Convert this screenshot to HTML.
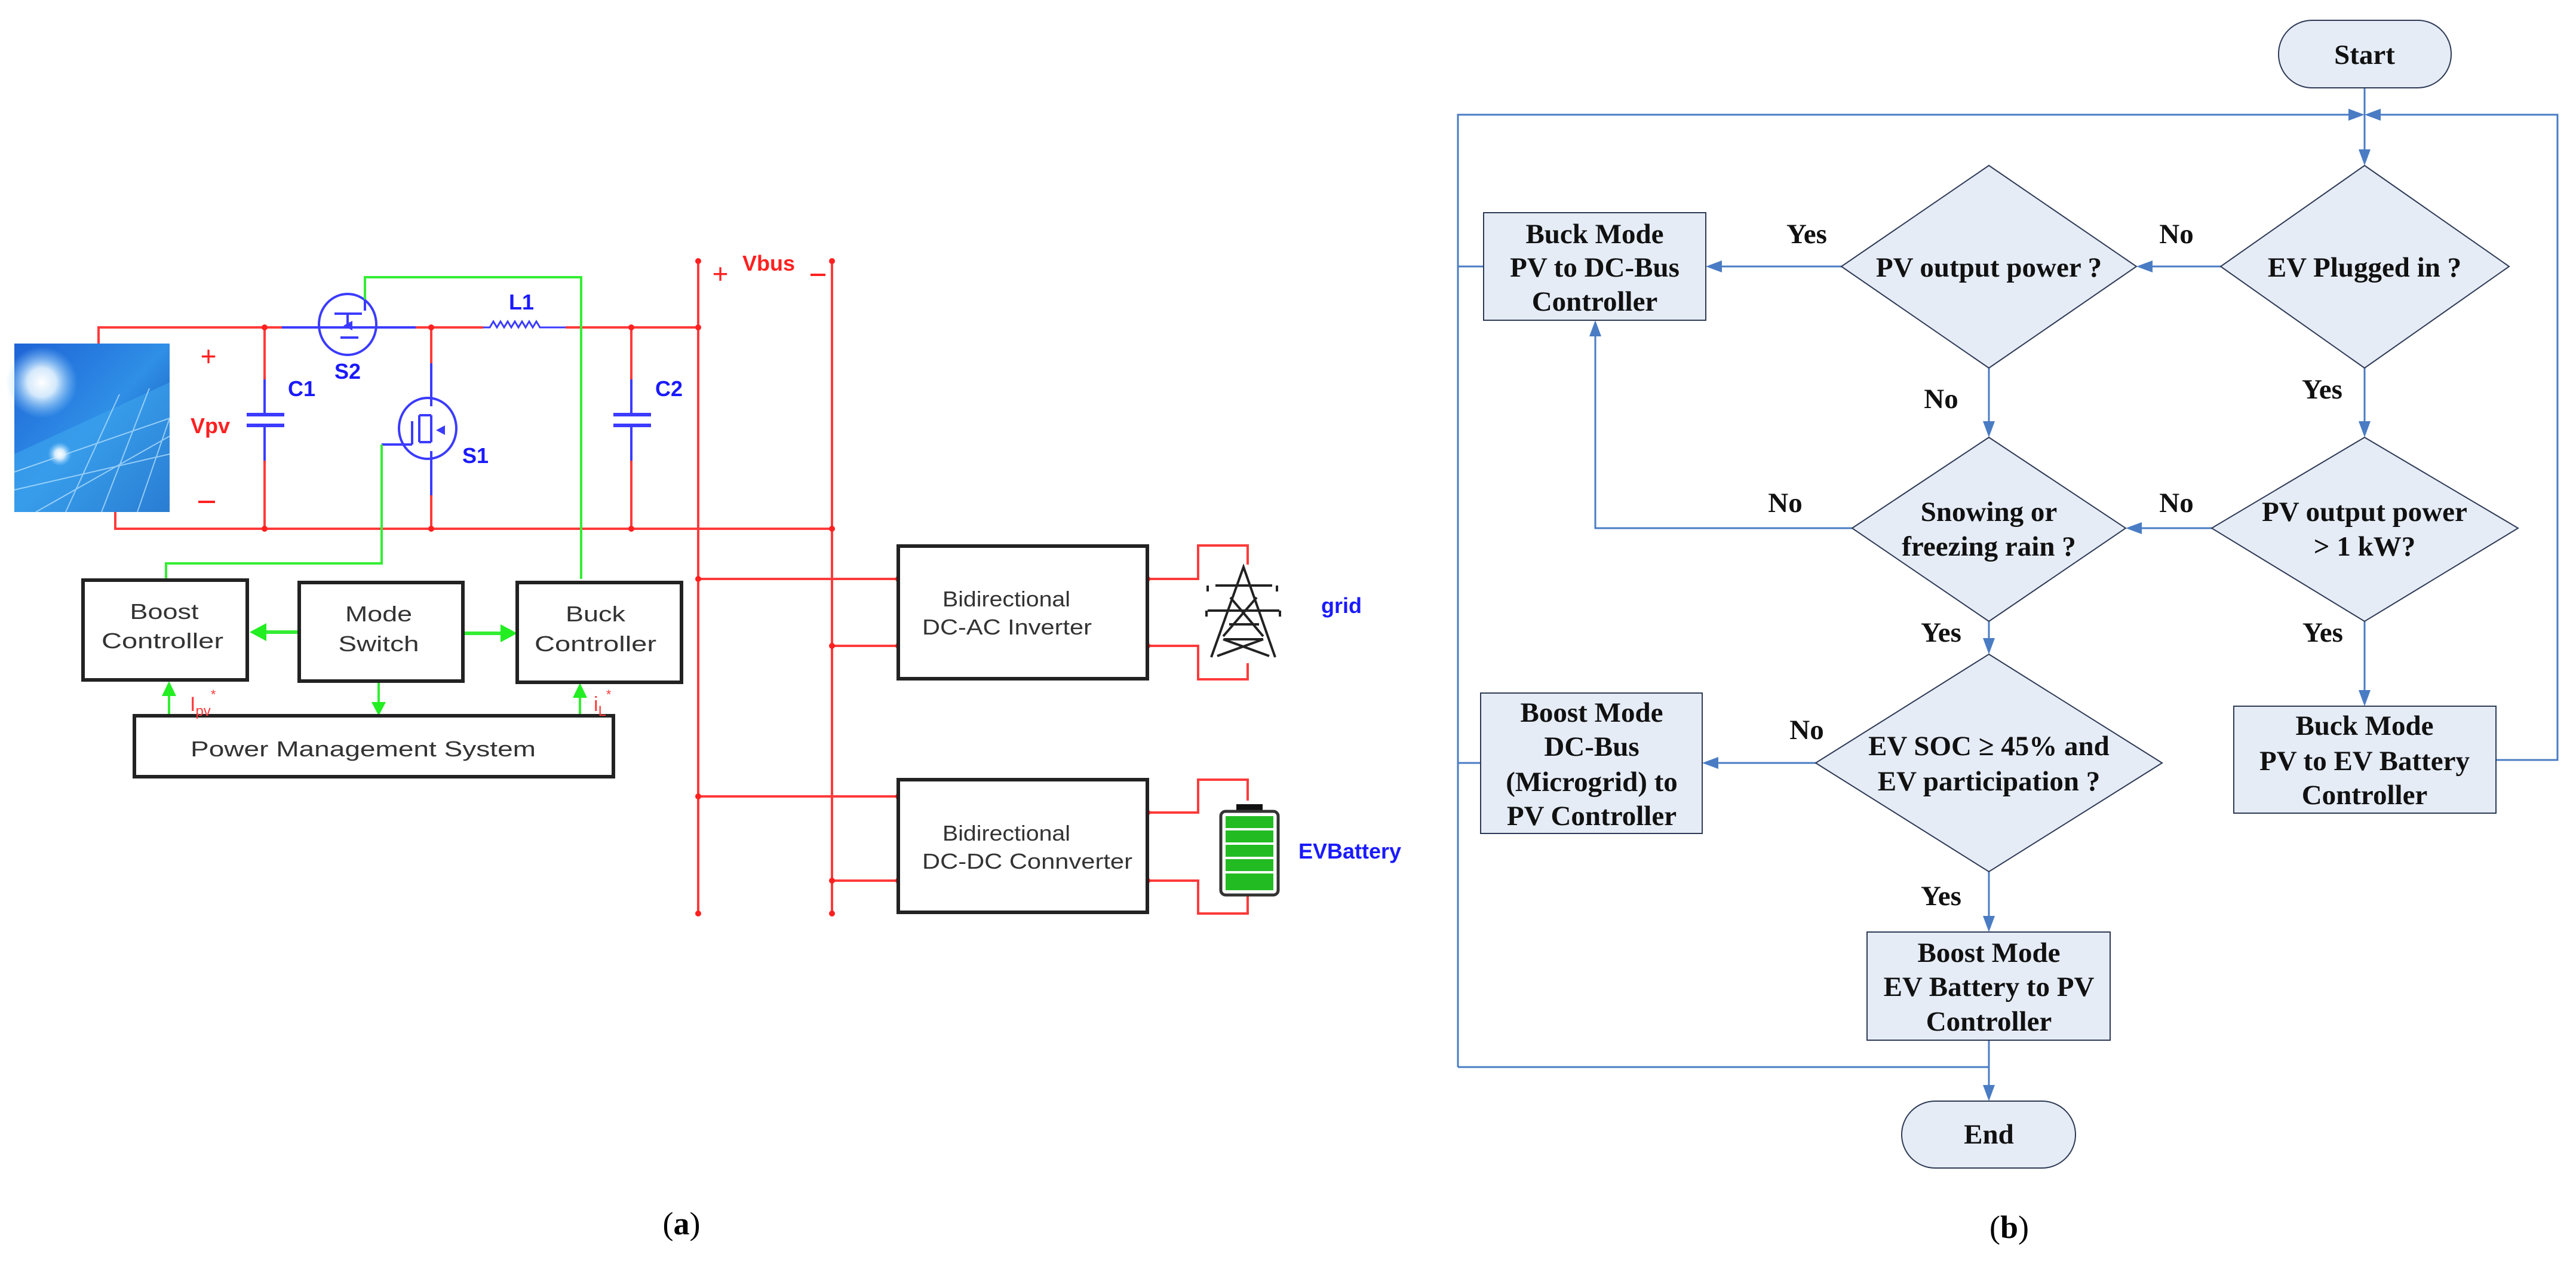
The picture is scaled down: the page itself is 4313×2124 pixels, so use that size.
<!DOCTYPE html>
<html><head><meta charset="utf-8"><style>
html,body{margin:0;padding:0;background:#fff}
svg{display:block}
.fc{font-family:"Liberation Serif",serif;font-weight:bold;font-size:47px;fill:#111;text-anchor:middle}
.cl{font-family:"Liberation Sans",sans-serif;font-weight:bold;font-size:36px;fill:#1a1aff;text-anchor:middle}
.bx{font-family:"Liberation Sans",sans-serif;font-size:36px;fill:#333;text-anchor:middle}
</style></head><body>
<svg width="4313" height="2124" viewBox="0 0 4313 2124" xmlns="http://www.w3.org/2000/svg">
<defs>
<marker id="ab" markerWidth="10" markerHeight="8" refX="10" refY="4" orient="auto" markerUnits="userSpaceOnUse" viewBox="0 0 10 8">
</marker>
<linearGradient id="sol" x1="0" y1="0" x2="1" y2="1">
<stop offset="0" stop-color="#1e63d6"/><stop offset="0.5" stop-color="#2f8fe6"/><stop offset="1" stop-color="#0d3fa8"/></linearGradient>
<radialGradient id="sun" cx="0.5" cy="0.5" r="0.5"><stop offset="0" stop-color="#fff"/><stop offset="0.4" stop-color="#e8f6ff" stop-opacity="0.9"/><stop offset="1" stop-color="#8fd0ff" stop-opacity="0"/></radialGradient>
</defs>

<!-- ================= (a) circuit ================= -->
<!-- solar panel -->
<rect x="24" y="575" width="260" height="282" fill="url(#sol)"/>
<polygon points="24,760 284,640 284,857 24,857" fill="#3ea6ee" opacity="0.6"/>
<g stroke="#bfe6ff" stroke-width="2" opacity="0.7">
<line x1="24" y1="790" x2="284" y2="700"/><line x1="24" y1="820" x2="284" y2="760"/><line x1="60" y1="857" x2="284" y2="730"/>
<line x1="110" y1="857" x2="200" y2="660"/><line x1="170" y1="857" x2="250" y2="650"/><line x1="230" y1="857" x2="284" y2="700"/>
</g>
<circle cx="70" cy="640" r="60" fill="url(#sun)"/>
<circle cx="100" cy="760" r="20" fill="url(#sun)"/>

<!-- red wires -->
<g stroke="#ff3a3a" stroke-width="4" fill="none">
<polyline points="165,575 165,548 472,548"/>
<line x1="696" y1="548" x2="809" y2="548"/>
<line x1="947" y1="548" x2="1169" y2="548"/>
<polyline points="193,857 193,885 1393,885"/>
<line x1="443" y1="548" x2="443" y2="635"/><line x1="443" y1="771" x2="443" y2="885"/>
<line x1="1057" y1="548" x2="1057" y2="635"/><line x1="1057" y1="771" x2="1057" y2="885"/>
<line x1="722" y1="548" x2="722" y2="608"/><line x1="722" y1="829" x2="722" y2="885"/>
<line x1="1169" y1="437" x2="1169" y2="1529"/>
<line x1="1393" y1="437" x2="1393" y2="1529"/>
<line x1="1169" y1="969" x2="1504" y2="969"/>
<line x1="1393" y1="1081" x2="1504" y2="1081"/>
<line x1="1169" y1="1333" x2="1504" y2="1333"/>
<line x1="1393" y1="1474" x2="1504" y2="1474"/>
<polyline points="1921,969 2006,969 2006,913 2089,913 2089,945"/>
<polyline points="1921,1081 2006,1081 2006,1137 2089,1137 2089,1110"/>
<polyline points="1921,1360 2006,1360 2006,1305 2089,1305 2089,1340"/>
<polyline points="1921,1474 2006,1474 2006,1529 2089,1529 2089,1498"/>
</g>
<g fill="#ff2020">
<circle cx="443" cy="548" r="5"/><circle cx="722" cy="548" r="5"/><circle cx="1057" cy="548" r="5"/><circle cx="1169" cy="548" r="5"/>
<circle cx="443" cy="885" r="5"/><circle cx="722" cy="885" r="5"/><circle cx="1057" cy="885" r="5"/><circle cx="1393" cy="885" r="5"/>
<circle cx="1169" cy="437" r="5"/><circle cx="1393" cy="437" r="5"/><circle cx="1169" cy="1529" r="5"/><circle cx="1393" cy="1529" r="5"/>
<circle cx="1169" cy="969" r="5"/><circle cx="1393" cy="1081" r="5"/><circle cx="1169" cy="1333" r="5"/><circle cx="1393" cy="1474" r="5"/>
<circle cx="1504" cy="969" r="5"/><circle cx="1504" cy="1081" r="5"/><circle cx="1504" cy="1333" r="5"/><circle cx="1504" cy="1474" r="5"/>
<circle cx="1921" cy="969" r="5"/><circle cx="1921" cy="1081" r="5"/><circle cx="1921" cy="1360" r="5"/><circle cx="1921" cy="1474" r="5"/>
</g>

<!-- blue components -->
<g stroke="#3b3bff" stroke-width="4" fill="none">
<line x1="472" y1="548" x2="696" y2="548"/>
<ellipse cx="582" cy="543" rx="48" ry="51"/>
<line x1="560" y1="525" x2="606" y2="525"/><line x1="582" y1="525" x2="582" y2="548"/>
<line x1="570" y1="565" x2="600" y2="565"/>
<line x1="611" y1="501" x2="611" y2="520"/>
<polyline points="809,548 820,548 826,538 832,548 838,538 844,548 850,538 856,548 862,538 868,548 874,538 880,548 886,538 892,548 898,538 904,548 947,548" stroke-width="3"/>
<line x1="443" y1="635" x2="443" y2="694"/><line x1="443" y1="712" x2="443" y2="771"/>
<line x1="413" y1="694" x2="476" y2="694" stroke-width="6"/><line x1="413" y1="712" x2="476" y2="712" stroke-width="6"/>
<line x1="1057" y1="635" x2="1057" y2="694"/><line x1="1057" y1="712" x2="1057" y2="771"/>
<line x1="1027" y1="694" x2="1090" y2="694" stroke-width="6"/><line x1="1027" y1="712" x2="1027" y2="712"/>
<line x1="1027" y1="712" x2="1090" y2="712" stroke-width="6"/>
<line x1="722" y1="608" x2="722" y2="680"/><line x1="722" y1="755" x2="722" y2="829"/>
<ellipse cx="716" cy="717" rx="48" ry="51"/>
<line x1="702" y1="695" x2="702" y2="740"/><line x1="702" y1="695" x2="722" y2="695"/><line x1="702" y1="740" x2="722" y2="740"/>
<line x1="722" y1="695" x2="722" y2="740"/>
<line x1="639" y1="744" x2="690" y2="744"/><line x1="690" y1="705" x2="690" y2="744"/>
</g>
<polygon points="575,545 590,537 590,553" fill="#3b3bff"/>
<polygon points="730,720 745,712 745,728" fill="#3b3bff"/>
<text x="582" y="634" class="cl">S2</text>
<text x="505" y="663" class="cl">C1</text>
<text x="1120" y="663" class="cl">C2</text>
<text x="873" y="518" class="cl">L1</text>
<text x="796" y="775" class="cl">S1</text>
<text x="352" y="725" class="cl" style="fill:#ff2020">Vpv</text>
<text x="349" y="612" style="font-family:'Liberation Sans',sans-serif;font-size:46px;fill:#ff2020;text-anchor:middle">+</text>
<line x1="332" y1="840" x2="360" y2="840" stroke="#ff2020" stroke-width="4"/>
<text x="1287" y="453" class="cl" style="fill:#ff2020">Vbus</text>
<text x="1206" y="474" style="font-family:'Liberation Sans',sans-serif;font-size:46px;fill:#ff2020;text-anchor:middle">+</text>
<line x1="1357" y1="460" x2="1382" y2="460" stroke="#ff2020" stroke-width="4"/>

<!-- green wires -->
<g stroke="#33ee33" stroke-width="4" fill="none">
<polyline points="611,501 611,464 973,464 973,969"/>
<polyline points="639,744 639,943 278,943 278,969"/>
<line x1="501" y1="1058" x2="440" y2="1058" stroke-width="6"/>
<line x1="775" y1="1060" x2="840" y2="1060" stroke-width="6"/>
<line x1="634" y1="1140" x2="634" y2="1180"/>
<line x1="283" y1="1198" x2="283" y2="1160"/>
<line x1="971" y1="1198" x2="971" y2="1165"/>
</g>
<g fill="#22ee22">
<polygon points="418,1058 446,1043 446,1073"/>
<polygon points="866,1060 838,1045 838,1075"/>
<polygon points="634,1198 622,1175 646,1175"/>
<polygon points="283,1140 271,1165 295,1165"/>
<polygon points="971,1143 959,1168 983,1168"/>
</g>
<!-- boxes -->
<g stroke="#222" stroke-width="6" fill="#fff">
<rect x="139" y="971" width="275" height="167"/>
<rect x="501" y="975" width="274" height="165"/>
<rect x="866" y="975" width="275" height="167"/>
<rect x="225" y="1198" width="802" height="102"/>
<rect x="1504" y="914" width="417" height="222"/>
<rect x="1504" y="1305" width="417" height="222"/>
</g>
<g class="bx">
<text x="275" y="1036" class="bx" textLength="115" lengthAdjust="spacingAndGlyphs">Boost</text>
<text x="272" y="1085" class="bx" textLength="204" lengthAdjust="spacingAndGlyphs">Controller</text>
<text x="634" y="1040" class="bx" textLength="112" lengthAdjust="spacingAndGlyphs">Mode</text>
<text x="634" y="1090" class="bx" textLength="135" lengthAdjust="spacingAndGlyphs">Switch</text>
<text x="997" y="1040" class="bx" textLength="100" lengthAdjust="spacingAndGlyphs">Buck</text>
<text x="997" y="1090" class="bx" textLength="204" lengthAdjust="spacingAndGlyphs">Controller</text>
<text x="608" y="1266" class="bx" textLength="578" lengthAdjust="spacingAndGlyphs">Power Management System</text>
<text x="1685" y="1015" class="bx" textLength="214" lengthAdjust="spacingAndGlyphs">Bidirectional</text>
<text x="1686" y="1062" class="bx" textLength="284" lengthAdjust="spacingAndGlyphs">DC-AC Inverter</text>
<text x="1685" y="1407" class="bx" textLength="214" lengthAdjust="spacingAndGlyphs">Bidirectional</text>
<text x="1720" y="1454" class="bx" textLength="352" lengthAdjust="spacingAndGlyphs">DC-DC Connverter</text>
</g>
<text x="318" y="1190" style="font-family:'Liberation Sans',sans-serif;font-size:34px;fill:#ff3a3a">I<tspan font-size="24" dy="8">pv</tspan><tspan font-size="22" dy="-28">*</tspan></text>
<text x="994" y="1190" style="font-family:'Liberation Sans',sans-serif;font-size:34px;fill:#ff3a3a">i<tspan font-size="24" dy="8">L</tspan><tspan font-size="22" dy="-28">*</tspan></text>

<!-- tower -->
<g stroke="#222" stroke-width="4" fill="none">
<polyline points="2028,1100 2082,949 2135,1100"/>
<line x1="2035" y1="980" x2="2130" y2="980"/><line x1="2022" y1="1022" x2="2142" y2="1022"/>
<polyline points="2022,990 2022,980"/><polyline points="2138,990 2138,980"/>
<polyline points="2020,1032 2020,1022"/><polyline points="2143,1032 2143,1022"/>
<line x1="2058" y1="1045" x2="2108" y2="1045"/><line x1="2050" y1="1070" x2="2115" y2="1070"/>
<line x1="2060" y1="1000" x2="2115" y2="1065"/><line x1="2104" y1="1000" x2="2048" y2="1065"/>
<line x1="2048" y1="1070" x2="2125" y2="1098"/><line x1="2115" y1="1070" x2="2038" y2="1098"/>
</g>
<text x="2246" y="1026" class="cl" style="text-anchor:middle">grid</text>
<!-- battery -->
<rect x="2070" y="1346" width="44" height="14" fill="#111"/>
<rect x="2044" y="1358" width="96" height="140" rx="8" fill="#fff" stroke="#333" stroke-width="5"/>
<g fill="#22bb22">
<rect x="2052" y="1366" width="80" height="20"/><rect x="2052" y="1390" width="80" height="20"/><rect x="2052" y="1414" width="80" height="20"/>
<rect x="2052" y="1438" width="80" height="20"/><rect x="2052" y="1462" width="80" height="28"/>
</g>
<text x="2260" y="1437" class="cl">EVBattery</text>
<text x="1141" y="2066" style="font-family:'Liberation Serif',serif;font-size:54px;fill:#000;text-anchor:middle">(<tspan font-weight="bold">a</tspan>)</text>

<!-- ================= (b) flowchart ================= -->
<g stroke="#4a7cc4" stroke-width="3" fill="none">
<polyline points="2441,1786 2441,192 3935,192"/>
<polyline points="4179,1272 4282,1272 4282,192 3983,192"/>
<line x1="3959" y1="147" x2="3959" y2="252"/>
<line x1="3718" y1="446" x2="3600" y2="446"/>
<line x1="3083" y1="446" x2="2880" y2="446"/>
<line x1="2484" y1="446" x2="2441" y2="446"/>
<line x1="3330" y1="616" x2="3330" y2="708"/>
<line x1="3959" y1="616" x2="3959" y2="708"/>
<line x1="3703" y1="884" x2="3583" y2="884"/>
<polyline points="3101,884 2671,884 2671,560"/>
<line x1="3330" y1="1040" x2="3330" y2="1071"/>
<line x1="3959" y1="1040" x2="3959" y2="1158"/>
<line x1="3040" y1="1277" x2="2874" y2="1277"/>
<line x1="2479" y1="1277" x2="2441" y2="1277"/>
<line x1="3330" y1="1459" x2="3330" y2="1536"/>
<polyline points="2441,1786 3330,1786"/>
<line x1="3330" y1="1741" x2="3330" y2="1819"/>
</g>
<g fill="#4a7cc4">
<polygon points="3959,192 3932,182 3932,202"/>
<polygon points="3959,192 3986,182 3986,202"/>
<polygon points="3959,277 3949,250 3969,250"/>
<polygon points="3577,446 3604,436 3604,456"/>
<polygon points="2856,446 2883,436 2883,456"/>
<polygon points="2671,536 2661,563 2681,563"/>
<polygon points="3330,732 3320,705 3340,705"/>
<polygon points="3959,732 3949,705 3969,705"/>
<polygon points="3559,884 3586,874 3586,894"/>
<polygon points="3330,1095 3320,1068 3340,1068"/>
<polygon points="3959,1182 3949,1155 3969,1155"/>
<polygon points="2850,1277 2877,1267 2877,1287"/>
<polygon points="3330,1560 3320,1533 3340,1533"/>
<polygon points="3330,1843 3320,1816 3340,1816"/>
</g>
<g fill="#e5ecf6" stroke="#2e3a55" stroke-width="2">
<rect x="3815" y="34" width="289" height="113" rx="56"/>
<rect x="3184" y="1843" width="291" height="112" rx="56"/>
<polygon points="3959,277 4201,446 3959,616 3718,446"/>
<polygon points="3330,277 3577,446 3330,616 3083,446"/>
<polygon points="3330,732 3559,884 3330,1040 3101,884"/>
<polygon points="3959,732 4216,884 3959,1040 3703,884"/>
<polygon points="3330,1095 3620,1277 3330,1459 3040,1277"/>
<rect x="2484" y="356" width="372" height="180"/>
<rect x="2479" y="1160" width="371" height="235"/>
<rect x="3740" y="1182" width="439" height="179"/>
<rect x="3126" y="1560" width="407" height="181"/>
</g>
<g class="fc">
<text x="3959" y="107">Start</text>
<text x="3330" y="1914">End</text>
<text x="3959" y="463">EV Plugged in ?</text>
<text x="3330" y="463">PV output power ?</text>
<text x="3330" y="872">Snowing or</text>
<text x="3330" y="930">freezing rain ?</text>
<text x="3959" y="872">PV output power</text>
<text x="3959" y="930">&gt; 1 kW?</text>
<text x="3330" y="1264">EV SOC ≥ 45% and</text>
<text x="3330" y="1323">EV participation ?</text>
<text x="2670" y="407">Buck Mode</text>
<text x="2670" y="463">PV to DC-Bus</text>
<text x="2670" y="520">Controller</text>
<text x="2665" y="1208">Boost Mode</text>
<text x="2665" y="1265">DC-Bus</text>
<text x="2665" y="1324">(Microgrid) to</text>
<text x="2665" y="1381">PV Controller</text>
<text x="3959" y="1230">Buck Mode</text>
<text x="3959" y="1289">PV to EV Battery</text>
<text x="3959" y="1346">Controller</text>
<text x="3330" y="1610">Boost Mode</text>
<text x="3330" y="1667">EV Battery to PV</text>
<text x="3330" y="1725">Controller</text>
<text x="3025" y="407">Yes</text>
<text x="3644" y="407">No</text>
<text x="3250" y="683">No</text>
<text x="3888" y="667">Yes</text>
<text x="2989" y="857">No</text>
<text x="3644" y="857">No</text>
<text x="3250" y="1074">Yes</text>
<text x="3889" y="1074">Yes</text>
<text x="3025" y="1237">No</text>
<text x="3250" y="1515">Yes</text>
</g>
<text x="3364" y="2072" style="font-family:'Liberation Serif',serif;font-size:54px;fill:#000;text-anchor:middle">(<tspan font-weight="bold">b</tspan>)</text>
</svg>
</body></html>
